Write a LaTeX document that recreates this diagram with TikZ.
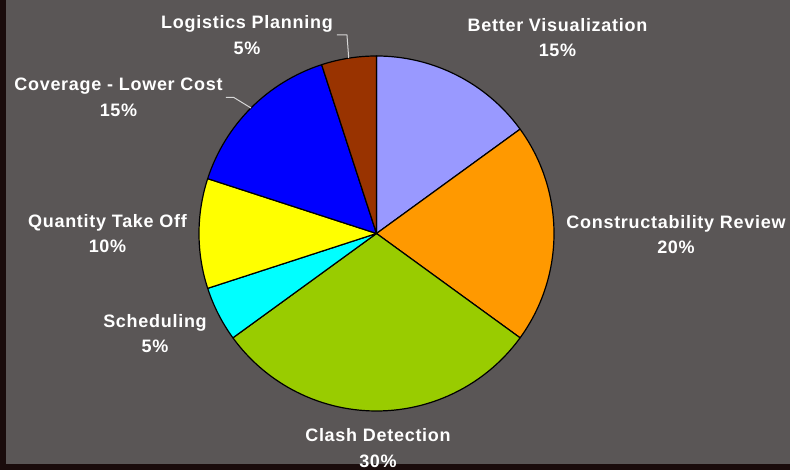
\documentclass[tikz,border=0pt]{standalone}
\usepackage{fontspec}
\setmainfont{Liberation Sans}[LetterSpace=4]
\definecolor{bggray}{RGB}{90,86,86}
\definecolor{edgedark}{RGB}{26,12,12}
\definecolor{lav}{RGB}{153,153,255}
\definecolor{orng}{RGB}{255,153,0}
\definecolor{lgreen}{RGB}{153,204,0}
\definecolor{cyn}{RGB}{0,255,255}
\definecolor{yel}{RGB}{255,255,0}
\definecolor{blu}{RGB}{0,0,255}
\definecolor{brn}{RGB}{153,51,0}
\definecolor{leadc}{RGB}{215,215,215}
\tikzset{
  slice/.style={draw=black, line width=1.2pt, line join=round},
  lbl/.style={text=white, font=\bfseries\fontsize{18}{25.5}\selectfont, align=center, inner sep=0pt},
  leader/.style={draw=leadc, line width=1pt}
}
\begin{document}
\begin{tikzpicture}[x=1pt,y=1pt]
\useasboundingbox (0,0) rectangle (790,470);
\fill[edgedark] (0,0) rectangle (790,470);
\fill[bggray] (6,6) rectangle (790,470);
\coordinate (c) at (376.5,236.5);
\def\R{177.5}
% slices, clockwise from top
\filldraw[slice, fill=lav]    (c) -- ++(90:\R)   arc[start angle=90,   end angle=36,   radius=\R] -- cycle;
\filldraw[slice, fill=orng]   (c) -- ++(36:\R)   arc[start angle=36,   end angle=-36,  radius=\R] -- cycle;
\filldraw[slice, fill=lgreen] (c) -- ++(-36:\R)  arc[start angle=-36,  end angle=-144, radius=\R] -- cycle;
\filldraw[slice, fill=cyn]    (c) -- ++(-144:\R) arc[start angle=-144, end angle=-162, radius=\R] -- cycle;
\filldraw[slice, fill=yel]    (c) -- ++(-162:\R) arc[start angle=-162, end angle=-198, radius=\R] -- cycle;
\filldraw[slice, fill=blu]    (c) -- ++(-198:\R) arc[start angle=-198, end angle=-252, radius=\R] -- cycle;
\filldraw[slice, fill=brn]    (c) -- ++(-252:\R) arc[start angle=-252, end angle=-270, radius=\R] -- cycle;
% labels
\node[lbl] (lg) at (247,435)   {Logistics Planning\\5\%};
\node[lbl] (bv) at (557.5,432.5) {Better Visualization\\15\%};
\node[lbl] (cov) at (118.5,372.5) {Coverage - Lower Cost\\15\%};
\node[lbl] (cr) at (676,235.5) {Constructability Review\\20\%};
\node[lbl] (qt) at (107.5,236.5) {Quantity Take Off\\10\%};
\node[lbl] (sc) at (155,136.5) {Scheduling\\5\%};
\node[lbl] (cd) at (378,22) {Clash Detection\\30\%};
% leader lines
\path (c) ++(99:\R) coordinate (lgE);
\path (c) ++(135:\R) coordinate (covE);
\draw[leader] ([xshift=4pt]lg.east) -- ++(10,0) -- (lgE);
\draw[leader] ([xshift=3pt]cov.east) -- ++(8,0) -- (covE);
\end{tikzpicture}
\end{document}
